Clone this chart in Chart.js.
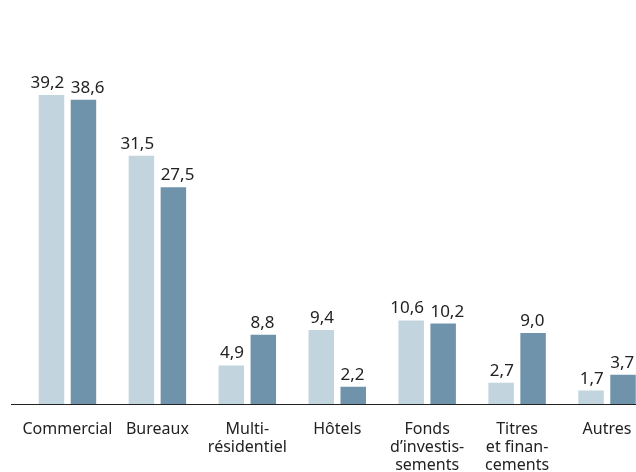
<!DOCTYPE html>
<html>
<head>
<meta charset="utf-8">
<script src="https://cdn.jsdelivr.net/npm/chart.js@4"></script>
<style>
    html, body { margin: 0; padding: 0; background: #fff; overflow: hidden; }
    #wrap { width: 636px; height: 472px; overflow: hidden; position: relative; }
    #box { width: 660px; height: 472px; position: absolute; left: 0; top: 0; }
</style>
</head>
<body>
<div id="wrap"><div id="box"><canvas id="chart"></canvas></div></div>
<script>
const categories = [
    'Commercial',
    'Bureaux',
    ['Multi-', 'résidentiel'],
    'Hôtels',
    ['Fonds', 'd\u2019investis-', 'sements'],
    ['Titres', 'et finan-', 'cements'],
    'Autres'
];
const seriesA = [39.2, 31.5, 4.9, 9.4, 10.6, 2.7, 1.7];
const seriesB = [38.6, 27.5, 8.8, 2.2, 10.2, 9.0, 3.7];

const FONT = '"Noto Sans", sans-serif';
const TEXT = '#222222';

const fmt = (v) => v.toFixed(1).replace('.', ',');

// value labels: light bars right-aligned to the bar, dark bars left-aligned
const valueLabels = {
    id: 'valueLabels',
    afterDatasetsDraw(chart) {
        const ctx = chart.ctx;
        ctx.save();
        ctx.font = '17px ' + FONT;
        ctx.fillStyle = TEXT;
        ctx.textBaseline = 'alphabetic';
        chart.data.datasets.forEach((ds, i) => {
            chart.getDatasetMeta(i).data.forEach((bar, j) => {
                const half = bar.width / 2;
                if (i == 0) {
                    ctx.textAlign = 'right';
                    ctx.fillText(fmt(ds.data[j]), bar.x + half, bar.y - 7);
                } else {
                    ctx.textAlign = 'left';
                    ctx.fillText(fmt(ds.data[j]), bar.x - half, bar.y - 7);
                }
            });
        });
        ctx.restore();
    }
};

// baseline under the bars, starts a bit left of the first bar
const baseLine = {
    id: 'baseLine',
    afterDatasetsDraw(chart) {
        const ctx = chart.ctx;
        const y = chart.chartArea.bottom + 0.5;
        ctx.save();
        ctx.strokeStyle = '#222222';
        ctx.lineWidth = 1.2;
        ctx.beginPath();
        ctx.moveTo(11, y);
        ctx.lineTo(chart.width, y);
        ctx.stroke();
        ctx.restore();
    }
};

const createChart = () => {
    const data = {
        labels: categories,
        datasets: [{
            data: seriesA,
            backgroundColor: '#c2d4de',
            categoryPercentage: 0.711,
            barPercentage: 0.797
        }, {
            data: seriesB,
            backgroundColor: '#6e93ab',
            categoryPercentage: 0.711,
            barPercentage: 0.797
        }]
    };

    const config = {
        type: 'bar',
        data,
        options: {
            responsive: true,
            maintainAspectRatio: false,
            animation: false,
            layout: { padding: { left: 22.5, right: 8, top: 10, bottom: 0 } },
            plugins: {
                legend: { display: false },
                tooltip: { enabled: false }
            },
            scales: {
                x: {
                    grid: { display: false, drawTicks: false },
                    border: { display: false },
                    ticks: {
                        color: TEXT,
                        font: { family: FONT, size: 16, lineHeight: 1.13 },
                        padding: 16,
                        maxRotation: 0,
                        autoSkip: false
                    },
                    afterFit: (scale) => { scale.height = 68; }
                },
                y: {
                    display: false,
                    min: 0,
                    max: 50
                }
            }
        },
        plugins: [valueLabels, baseLine]
    };

    new Chart(document.getElementById('chart'), config);
};

window.onload = () => {
    createChart();
};
</script>
</body>
</html>
